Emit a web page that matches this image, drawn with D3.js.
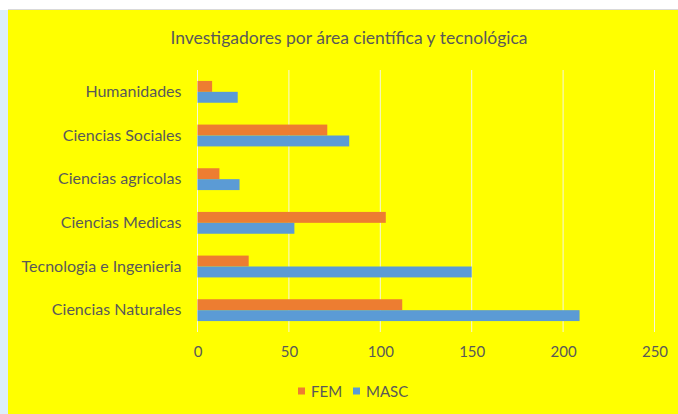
<!DOCTYPE html>
<html>
<head>
<meta charset="utf-8">
<script src="https://cdn.jsdelivr.net/npm/d3@7"></script>
<style>
  body { margin: 0; background: #fff; }
  svg { display: block; font-family: Lato, "Open Sans", sans-serif; }
</style>
</head>
<body>
<div id="chart"></div>
<script>
// data
var categories = ["Humanidades", "Ciencias Sociales", "Ciencias agricolas",
                  "Ciencias Medicas", "Tecnologia e Ingenieria", "Ciencias Naturales"];
var femValues  = [8, 71, 12, 103, 28, 112];
var mascValues = [22, 83, 23, 53, 150, 209];
var seriesNames = ["FEM", "MASC"];
var xTicks = [0, 50, 100, 150, 200, 250];

var W = 678, H = 414;
var colors = {FEM: "#ED7D31", MASC: "#5B9BD5"};
var textColor = "#595959";

var svg = d3.select("#chart").append("svg")
  .attr("width", W).attr("height", H);

// page strip on the left, chart area in yellow
svg.append("rect").attr("x", 0).attr("y", 0).attr("width", W).attr("height", H).attr("fill", "#fff");
svg.append("rect").attr("x", 0).attr("y", 10).attr("width", 8).attr("height", H - 10).attr("fill", "#DDEFFA");
svg.append("line").attr("x1", 8).attr("x2", W).attr("y1", 9.5).attr("y2", 9.5).attr("stroke", "#d9d9d9");
svg.append("rect").attr("x", 8).attr("y", 10).attr("width", W - 8).attr("height", H - 10).attr("fill", "#FFFF00");

// title
svg.append("text")
  .attr("x", 349).attr("y", 44)
  .attr("text-anchor", "middle")
  .attr("font-size", 17.5)
  .attr("fill", textColor)
  .text("Investigadores por área científica y tecnológica");

var plot = {left: 197.5, right: 654.5, top: 70, bottom: 332};

var x = d3.scaleLinear().domain([0, 250]).range([plot.left, plot.right]);
var y = d3.scaleBand().domain(categories).range([plot.top, plot.bottom]).paddingInner(0.5).paddingOuter(0.25);
var ySub = d3.scaleBand().domain(seriesNames).range([0, y.bandwidth()]);

// gridlines
svg.append("g").selectAll("line")
  .data(xTicks)
  .join("line")
    .attr("x1", d => x(d)).attr("x2", d => x(d))
    .attr("y1", plot.top).attr("y2", plot.bottom)
    .attr("stroke", "#f6f6dc")
    .attr("stroke-width", 1);

// x axis labels
var xAxis = svg.append("g")
  .attr("transform", `translate(0,${plot.bottom})`)
  .call(d3.axisBottom(x).tickValues(xTicks).tickSize(0).tickPadding(14));
xAxis.select(".domain").remove();
xAxis.selectAll("text").attr("font-size", 15).attr("fill", textColor).attr("font-family", "Lato, sans-serif");

// y axis labels
var yAxis = svg.append("g")
  .attr("transform", `translate(${plot.left - 1},0)`)
  .call(d3.axisLeft(y).tickSize(0).tickPadding(15));
yAxis.select(".domain").remove();
yAxis.selectAll("text").attr("font-size", 16).attr("fill", textColor).attr("font-family", "Lato, sans-serif");

// bars
var rows = categories.map((c, i) => ({cat: c, FEM: femValues[i], MASC: mascValues[i]}));
var groups = svg.append("g").selectAll("g")
  .data(rows)
  .join("g")
    .attr("transform", d => `translate(0,${y(d.cat)})`);

groups.selectAll("rect")
  .data(d => seriesNames.map(s => ({s: s, v: d[s]})))
  .join("rect")
    .attr("x", x(0))
    .attr("y", d => ySub(d.s))
    .attr("width", d => x(d.v) - x(0))
    .attr("height", ySub.bandwidth())
    .attr("fill", d => colors[d.s]);

// legend
var legendX = [298, 353];
var legend = svg.append("g").selectAll("g")
  .data(seriesNames)
  .join("g")
    .attr("transform", (d, i) => `translate(${legendX[i]},391)`);
legend.append("rect")
  .attr("x", 0).attr("y", -3.5).attr("width", 7).attr("height", 7)
  .attr("fill", d => colors[d]);
legend.append("text")
  .attr("x", 13).attr("y", 5.5)
  .attr("font-size", 15)
  .attr("fill", textColor)
  .text(d => d);
</script>
</body>
</html>
